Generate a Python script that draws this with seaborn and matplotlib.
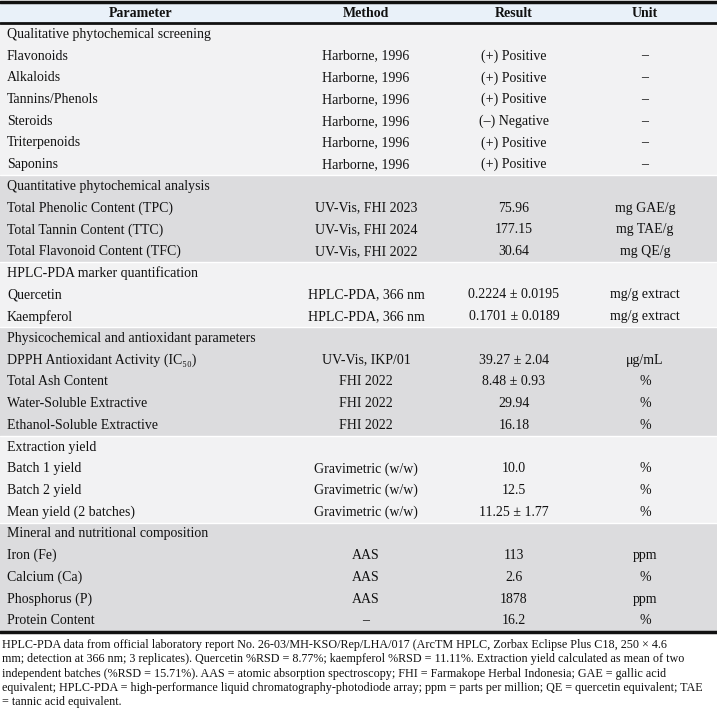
import matplotlib
matplotlib.use("Agg")
import matplotlib.pyplot as plt
import seaborn as sns
from matplotlib.patches import Rectangle

sns.set_theme(style="white")
plt.rcParams['font.family'] = ['Liberation Serif', 'DejaVu Serif']

headers = ["Parameter", "Method", "Result", "Unit"]

sections = [
    "Qualitative phytochemical screening",
    "Quantitative phytochemical analysis",
    "HPLC-PDA marker quantification",
    "Physicochemical and antioxidant parameters",
    "Extraction yield",
    "Mineral and nutritional composition",
]

params = [
    ["Flavonoids", "Alkaloids", "Tannins/Phenols", "Steroids", "Triterpenoids", "Saponins"],
    ["Total Phenolic Content (TPC)", "Total Tannin Content (TTC)", "Total Flavonoid Content (TFC)"],
    ["Quercetin", "Kaempferol"],
    ["DPPH Antioxidant Activity (IC₅₀)", "Total Ash Content", "Water-Soluble Extractive", "Ethanol-Soluble Extractive"],
    ["Batch 1 yield", "Batch 2 yield", "Mean yield (2 batches)"],
    ["Iron (Fe)", "Calcium (Ca)", "Phosphorus (P)", "Protein Content"],
]

methods = [
    ["Harborne, 1996"] * 6,
    ["UV-Vis, FHI 2023", "UV-Vis, FHI 2024", "UV-Vis, FHI 2022"],
    ["HPLC-PDA, 366 nm", "HPLC-PDA, 366 nm"],
    ["UV-Vis, IKP/01", "FHI 2022", "FHI 2022", "FHI 2022"],
    ["Gravimetric (w/w)"] * 3,
    ["AAS", "AAS", "AAS", "–"],
]

results = [
    ["(+) Positive", "(+) Positive", "(+) Positive", "(–) Negative", "(+) Positive", "(+) Positive"],
    ["75.96", "177.15", "30.64"],
    ["0.2224 ± 0.0195", "0.1701 ± 0.0189"],
    ["39.27 ± 2.04", "8.48 ± 0.93", "29.94", "16.18"],
    ["10.0", "12.5", "11.25 ± 1.77"],
    ["113", "2.6", "1878", "16.2"],
]

units = [
    ["–"] * 6,
    ["mg GAE/g", "mg TAE/g", "mg QE/g"],
    ["mg/g extract", "mg/g extract"],
    ["μg/mL", "%", "%", "%"],
    ["%", "%", "%"],
    ["ppm", "%", "ppm", "%"],
]

footnote = [
    "HPLC-PDA data from official laboratory report No. 26-03/MH-KSO/Rep/LHA/017 (ArcTM HPLC, Zorbax Eclipse Plus C18, 250 × 4.6",
    "mm; detection at 366 nm; 3 replicates). Quercetin %RSD = 8.77%; kaempferol %RSD = 11.11%. Extraction yield calculated as mean of two",
    "independent batches (%RSD = 15.71%). AAS = atomic absorption spectroscopy; FHI = Farmakope Herbal Indonesia; GAE = gallic acid",
    "equivalent; HPLC-PDA = high-performance liquid chromatography-photodiode array; ppm = parts per million; QE = quercetin equivalent; TAE",
    "= tannic acid equivalent.",
]

W, H = 717, 710
fig = plt.figure(figsize=(W / 100, H / 100), dpi=100)
ax = fig.add_axes([0, 0, 1, 1])
ax.set_xlim(0, W)
ax.set_ylim(H, 0)
ax.axis("off")

header_top, header_bot = 3, 23
row_h = 21.72
col_x = [7, 366, 514, 645]
header_x = [141, 366, 514, 645]
fs = 10.0
txt = "#111111"

light = "#f2f2f3"
gray = "#dcdcde"

# header
ax.add_patch(Rectangle((0, header_top), W, header_bot - header_top, color="#e9f1f9", lw=0, zorder=0))
for j, h in enumerate(headers):
    ax.text(header_x[j], (header_top + header_bot) / 2 + 0.5, h, ha="center", va="center",
            fontsize=fs, fontweight="bold", color=txt)

y = header_bot
for s, sec in enumerate(sections):
    nrows = 1 + len(params[s])
    ax.add_patch(Rectangle((0, y), W, nrows * row_h, color=light if s % 2 == 0 else gray, lw=0, zorder=0))
    ax.text(col_x[0], y + row_h / 2 + 0.5, sec, ha="left", va="center", fontsize=fs, color=txt)
    for r in range(len(params[s])):
        yc = y + row_h * (r + 1.5) + 0.5
        ax.text(col_x[0], yc, params[s][r], ha="left", va="center", fontsize=fs, color=txt)
        ax.text(col_x[1], yc, methods[s][r], ha="center", va="center", fontsize=fs, color=txt)
        ax.text(col_x[2], yc, results[s][r], ha="center", va="center", fontsize=fs, color=txt)
        ax.text(col_x[3], yc, units[s][r], ha="center", va="center", fontsize=fs, color=txt)
    y += nrows * row_h
    if s < len(sections) - 1:
        ax.plot([0, W], [y, y], color="white", lw=1.0, zorder=1)

table_bot = y
ax.plot([0, W], [header_top - 1, header_top - 1], color=txt, lw=2.5, zorder=2)
ax.plot([0, W], [header_bot, header_bot], color=txt, lw=2.0, zorder=2)
ax.plot([0, W], [table_bot + 1, table_bot + 1], color=txt, lw=2.5, zorder=2)

for k, line in enumerate(footnote):
    ax.text(2, 645 + 14.3 * k, line, ha="left", va="center", fontsize=8.75, color=txt)

fig.savefig("out.png", dpi=100, facecolor="white")
